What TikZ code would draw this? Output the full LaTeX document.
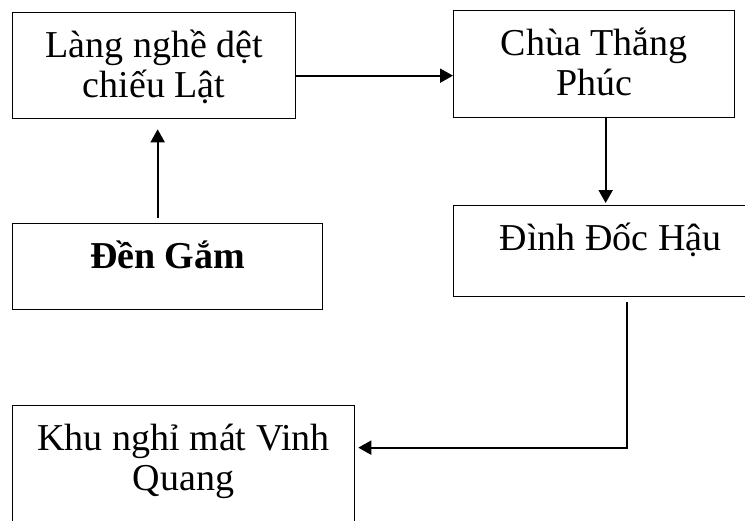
\documentclass[tikz,border=0pt]{standalone}
\usepackage{fontspec}
\setmainfont{Liberation Serif}
\usetikzlibrary{arrows.meta,positioning}

\tikzset{
  site/.style={draw, line width=0.65pt, inner sep=0pt, anchor=north west,
    align=flush center, text height=22.5pt, font=\fontsize{19}{20}\selectfont},
  link/.style={line width=1pt, -{Triangle[length=6.5pt,width=7pt]}}
}

\begin{document}
\begin{tikzpicture}[x=0.5pt,y=-0.5pt]
  \useasboundingbox (0,0) rectangle (745,520);
  \node[site, text width=141.5pt, text depth=30.5pt] (lang) at (12,12)  {Làng nghề dệt\\chiếu Lật};
  \node[site, text width=140.5pt, text depth=31pt]   (chua) at (453,10) {Chùa Thắng\\Phúc};
  \node[site, text width=155pt,   text depth=20.5pt] (den)  at (12,223) {\textbf{Đền Gắm}};
  \node[site, text width=157pt,   text depth=23pt]   (dinh) at (453,205) {Đình Đốc Hậu};
  \node[site, text width=171pt,   text depth=40pt]   (khu)  at (12,405) {Khu nghỉ mát Vinh\\Quang};
  \coordinate (drop) at ([shift={(174,5)}]dinh.south west);
  \draw [link] ([yshift=-5pt]lang.east) -- ([yshift=-5pt]lang.east -| chua.west);
  \draw [link, shorten <=2.5pt, shorten >=5pt] ([xshift=-5pt]den.north) -- ([xshift=-5pt]den.north |- lang.south);
  \draw [link, shorten >=1pt] ([xshift=5.75pt]chua.south) -- ([xshift=5.75pt]chua.south |- dinh.north);
  \draw [link, shorten >=1.5pt] (drop) |- ([yshift=10.25pt]khu.east);
\end{tikzpicture}
\end{document}
